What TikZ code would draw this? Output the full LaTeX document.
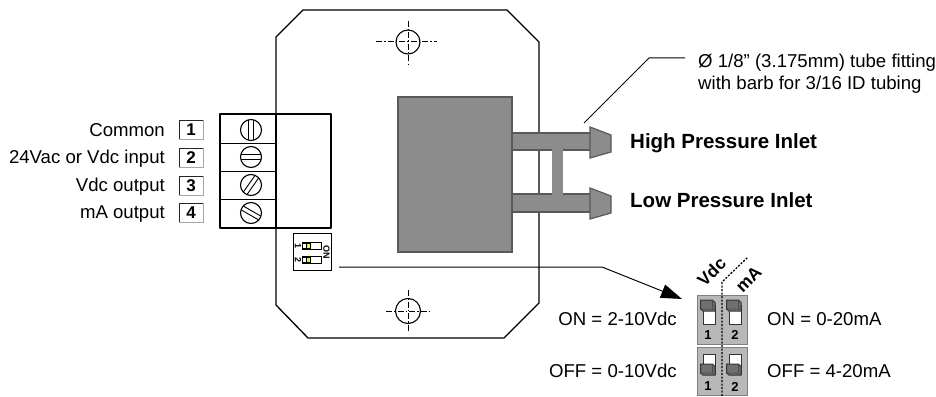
\documentclass[tikz,border=0pt]{standalone}
\usepackage{fontspec}
\setmainfont{Liberation Sans}
\usetikzlibrary{arrows.meta}
\definecolor{fillg}{HTML}{8C8C8C}
\definecolor{lineg}{HTML}{595959}
\definecolor{panelg}{HTML}{B8B8B8}
\definecolor{thumbg}{HTML}{707070}
\tikzset{
  x=1pt,y=-1pt,
  board/.style={line width=1.3pt,black,line join=round},
  centerl/.style={line width=1pt,dash pattern=on 6pt off 2pt on 1.5pt off 2pt},
  lbl/.style={inner sep=0pt,font=\fontsize{18.6}{20}\selectfont},
  lblr/.style={lbl,anchor=base east},
  lbll/.style={lbl,anchor=base west},
  bold/.style={inner sep=0pt,anchor=base west,font=\fontsize{20.5}{22}\selectfont\bfseries},
  numbox/.style={draw=black!85,line width=.8pt,fill=white,minimum width=24pt,minimum height=19pt,inner sep=0pt,font=\fontsize{17}{18}\selectfont\bfseries},
  boxshade/.style={draw=black!35,line width=1.1pt},
  gpart/.style={fill=fillg,draw=lineg,line width=1.2pt,line join=miter},
  screw/.style={circle,draw=black,line width=1.1pt,minimum size=21pt,inner sep=0pt,fill=white},
  slot/.style={fill=white,draw=black!80,line width=.9pt},
  thumb/.style={fill=thumbg,draw=black!80,line width=1pt},
  panel/.style={fill=panelg,draw=black!50,line width=.7pt},
  pnum/.style={inner sep=0pt,font=\fontsize{13}{14}\selectfont\bfseries},
  tinyl/.style={inner sep=0pt,font=\fontsize{9}{10}\selectfont\bfseries,rotate=-90},
  leader/.style={line width=1pt,black},
  vlabel/.style={inner sep=0pt,rotate=45,font=\fontsize{17.5}{19}\selectfont\bfseries},
}
\newcommand{\rowscrew}[3]{%
  \node[screw] (#1) at (251,#2) {};
  \begin{scope}[shift={(251,#2)},rotate=#3]
    \draw[line width=.9pt] (-10,-2.2) -- (10,-2.2) (-10,2.2) -- (10,2.2);
  \end{scope}}
\newcommand{\dipswitch}[3]{%
  \fill[black] (302,#1) rectangle (311,#1+7);
  \draw[line width=.7pt] (302,#1) rectangle (321,#1+7);
  \fill[white] (311,#1+.5) rectangle (320.5,#1+6.5);
  \fill[yellow] (306.5,#1+1.5) rectangle (309.5,#1+5.5);
  \fill[white] (303,#1+1.5) rectangle (306,#1+5.5);
  \node[tinyl] (#2) at (298,#1+3.5) {#3};}
\newcommand{\upswitch}[2]{%
  \draw[slot] (#1+2.5,#2+5) rectangle (#1+15,#2+24);
  \draw[thumb] (#1,#2) -- (#1+12,#2) -- (#1+14.5,#2+2.5) -- (#1+14.5,#2+11) -- (#1+2.5,#2+11) -- (#1,#2+9) -- cycle;
  \draw[black!70,line width=.6pt] (#1,#2+9) -- (#1+12,#2+9) -- (#1+14.5,#2+11) (#1+12,#2+9) -- (#1+12,#2);}
\newcommand{\downswitch}[2]{%
  \draw[slot] (#1+2.5,#2) rectangle (#1+15,#2+20);
  \draw[thumb] (#1,#2+10) -- (#1+12,#2+10) -- (#1+14.5,#2+12.5) -- (#1+14.5,#2+21) -- (#1+2.5,#2+21) -- (#1,#2+19) -- cycle;
  \draw[black!70,line width=.6pt] (#1,#2+19) -- (#1+12,#2+19) -- (#1+14.5,#2+21) (#1+12,#2+19) -- (#1+12,#2+10);}
\begin{document}
\begin{tikzpicture}
\useasboundingbox (0,0) rectangle (936,396);
% board
\draw[board] (276,37) -- (303,10) -- (507,10) -- (539,42) -- (539,303) -- (504,338) -- (308,338) -- (276,305) -- cycle;
% mount holes
\node[circle,draw,line width=1.1pt,minimum size=24pt,inner sep=0pt] (holeT) at (408,42) {};
\draw[centerl] (376,42) -- (437,42);
\draw[centerl] (408,21) -- (408,66);
\node[circle,draw,line width=1.1pt,minimum size=25pt,inner sep=0pt] (holeB) at (408,311) {};
\draw[centerl] (386,311) -- (429,311);
\draw[centerl] (408,290) -- (408,332);
% terminal block
\draw[board,fill=white] (220,114) rectangle (331,228);
\draw[board] (276,114) -- (276,228);
\draw[line width=.9pt] (220,143) -- (276,143) (220,171) -- (276,171) (220,199) -- (276,199);
\rowscrew{s1}{130}{90}
\rowscrew{s2}{157}{0}
\rowscrew{s3}{185}{55}
\rowscrew{s4}{213}{-30}
\node[numbox] (n1) at (191,129.5) {1};
\node[numbox] (n2) at (191,157.5) {2};
\node[numbox] (n3) at (191,185.5) {3};
\node[numbox] (n4) at (191,212.5) {4};
\foreach \n in {n1,n2,n3,n4}
  \draw[boxshade] (\n.north east) -- (\n.south east) -- (\n.south west);
\node[lblr] (t1) at (165,136) {Common};
\node[lblr] (t2) at (165,163) {24Vac or Vdc input};
\node[lblr] (t3) at (165,191) {Vdc output};
\node[lblr] (t4) at (165,218) {mA output};
% small DIP
\draw[line width=1pt,fill=white] (293,233) rectangle (331,270);
\dipswitch{242}{d1}{1}
\dipswitch{256}{d2}{2}
\node[tinyl] (don) at (326.5,252) {ON};
% sensor
\draw[gpart] (512,133) rectangle (592,150);
\draw[gpart] (512,194) rectangle (592,212);
\fill[fillg] (552,148) rectangle (563,196);
\draw[gpart] (398,97) rectangle (512,252);
\draw[gpart] (590,127) -- (611,135) -- (611,152) -- (590,158) -- cycle;
\draw[gpart] (590,188) -- (611,196) -- (611,213) -- (590,219) -- cycle;
\node[bold] (hp) at (630,148) {High Pressure Inlet};
\node[bold] (lp) at (630,207) {Low Pressure Inlet};
% leader
\coordinate (la) at (584,123);
\coordinate (lb) at (649,58);
\coordinate (lc) at (685,58);
\draw[leader] (la) -- (lb) -- (lc);
\node[lbll] (f1) at (698,67) {Ø 1/8" (3.175mm) tube fitting};
\node[lbll] (f2) at (698,89) {with barb for 3/16 ID tubing};
% DIP detail
\draw[panel] (697,295) rectangle (747,344);
\draw[panel] (697,347) rectangle (747,395);
\upswitch{700.5}{300}
\upswitch{726.5}{300}
\downswitch{700.5}{354}
\downswitch{726.5}{354}
\node[pnum] (p1) at (708,335) {1};
\node[pnum] (p2) at (735,335) {2};
\node[pnum] (p3) at (708,386.5) {1};
\node[pnum] (p4) at (735,386.5) {2};
\draw[line width=1.3pt,dash pattern=on 2pt off 1.5pt] (722,396) -- (722,282) -- (748,257);
\node[vlabel] (vdc) at (711.5,272) {Vdc};
\node[vlabel] (ma) at (748.5,279.5) {mA};
% arrow
\coordinate (aa) at (339,267);
\coordinate (ab) at (602,267);
\coordinate (ac) at (682,299);
\draw[leader,-{Triangle[length=21pt,width=14pt]}] (aa) -- (ab) -- (ac);
% detail labels
\node[lblr] (on1) at (677,325) {ON = 2-10Vdc};
\node[lblr] (off1) at (677,377) {OFF = 0-10Vdc};
\node[lbll] (on2) at (767,325) {ON = 0-20mA};
\node[lbll] (off2) at (767,377) {OFF = 4-20mA};
\end{tikzpicture}
\end{document}
